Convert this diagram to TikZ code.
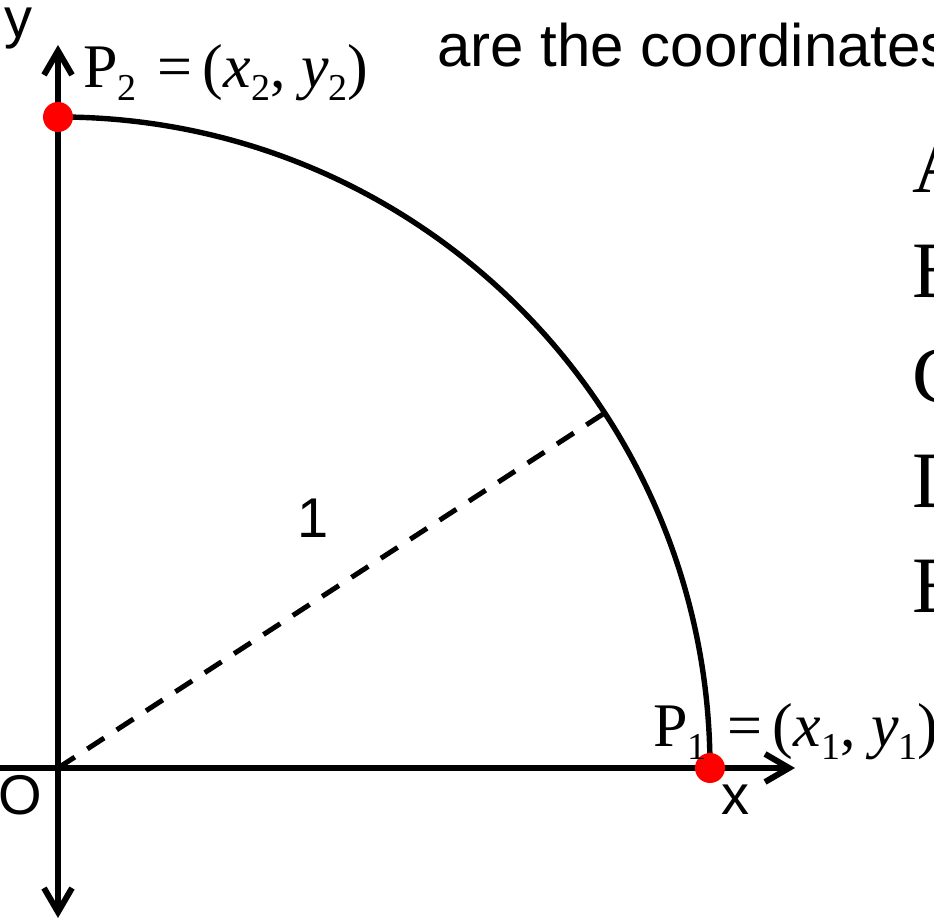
\documentclass[tikz,border=0pt]{standalone}
\usepackage{fontspec}
\setmainfont{Liberation Serif}
\setsansfont{Liberation Sans}
\usetikzlibrary{arrows.meta,calc}
\newcommand\lowidx[1]{\raisebox{-0.45ex}{\fontsize{19}{19}\selectfont #1}}

\begin{document}
\begin{tikzpicture}
  [x=0.5pt,y=0.5pt,
   axis/.style={line width=3pt,-{Straight Barb[length=12pt,width=14pt,line width=3pt]}},
   dot/.style={circle,fill=red,inner sep=0pt,minimum size=15pt},
   sans/.style={font=\sffamily\fontsize{28}{28}\selectfont,inner sep=0pt},
   serif/.style={font=\fontsize{31}{31}\selectfont,inner sep=0pt,anchor=base west},
   choice/.style={font=\fontsize{40}{40}\selectfont,inner sep=0pt,anchor=base west}]
  \useasboundingbox (0,0) rectangle (934,920);

  \coordinate (o) at (58,152);
  \coordinate (xl) at (0,152);
  \coordinate (xr) at (795,152);
  \coordinate (yb) at (58,2);
  \coordinate (yt) at (58,875);
  \coordinate (r) at ($(o)+(33:651)$);

  \draw[axis] (xl) -- (xr);
  \draw[axis] (o) -- (yt);
  \draw[axis] (o) -- (yb);
  \draw[line width=2.7pt] (710,152) arc (0:90:651);
  \draw[line width=2.5pt,dash pattern=on 10pt off 7.5pt] (o) -- (r);

  \node[dot] (p1) at (710,152) {};
  \node[dot] (p2) at (58,803) {};

  \node[sans] (ylab) at (18,891) {y};
  \node[sans] (xlab) at (735,120) {x};
  \node[sans] (olab) at (20,125) {O};
  \node[sans] (one) at (313,402) {1};
  \node[sans,font=\sffamily\fontsize{30}{30}\selectfont,anchor=base west] (top) at (437,853) {are the coordinates};

  \node[serif] (p2lab) at (83,832)
    {P\lowidx{2}\,\,=\,(\textit{x}\lowidx{2}, \textit{y}\lowidx{2})};
  \node[serif] (p1lab) at (653,173)
    {P\lowidx{1}\,\,=\,(\textit{x}\lowidx{1}, \textit{y}\lowidx{1})};

  \foreach \name/\ypos in {A/727,B/622,C/517,D/412,E/307}
    \node[choice] (opt\name) at (912,\ypos) {\name};

\end{tikzpicture}
\end{document}
